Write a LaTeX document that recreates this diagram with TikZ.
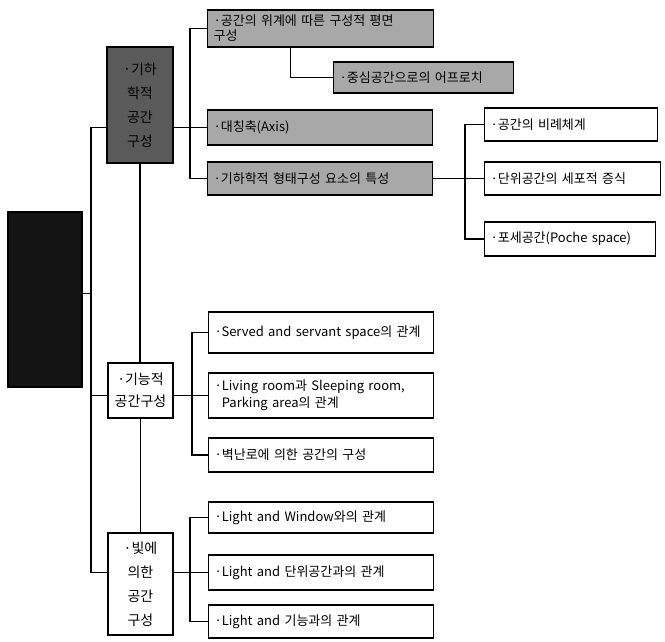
\documentclass[tikz,border=0pt]{standalone}
\usepackage{fontspec}
\setmainfont{Noto Sans CJK KR}
\definecolor{sdark}{HTML}{141414}
\definecolor{sgray}{HTML}{5A5A5A}
\definecolor{slight}{HTML}{A8A8A8}

\begin{document}
\begin{tikzpicture}[x=1pt, y=-1pt, line cap=round,
  box/.style={draw=black, line width=1.1pt, anchor=west, align=left,
    inner xsep=6pt, inner ysep=0pt, font=\fontsize{13}{17}\selectfont},
  hbox/.style={box, fill=slight},
  cat/.style={draw=black, line width=1.1pt, align=center, inner sep=0pt,
    minimum width=65pt, font=\fontsize{14}{24}\selectfont},
  link/.style={line width=1.1pt}]
  \useasboundingbox (0,0) rectangle (665,641);

  % root and categories
  \node[cat, fill=sdark, minimum width=74pt, minimum height=175pt] (root) at (45,299.5) {};
  \node[cat, fill=sgray, minimum width=66pt, minimum height=116pt] (geo) at (140,105) {·기하\\학적\\공간\\구성};
  \node[cat, minimum height=55pt, font=\fontsize{14}{22}\selectfont] (func) at (140.5,390.5) {·기능적\\공간구성};
  \node[cat, minimum height=102pt] (light) at (140.5,584) {·빛에\\의한\\공간\\구성};

  % geometric branch
  \node[hbox, text width=214pt, minimum height=37pt, font=\fontsize{13}{15}\selectfont] (hier) at (207,28.5) {·공간의 위계에 따른 구성적 평면\\구성};
  \node[hbox, text width=168pt, minimum height=31pt] (appr) at (333,77.5) {·중심공간으로의 어프로치};
  \node[hbox, text width=213pt, minimum height=35pt] (axis) at (207,127.5) {·대칭축(Axis)};
  \node[hbox, text width=213pt, minimum height=33pt] (form) at (207,178.5) {·기하학적 형태구성 요소의 특성};
  \node[box, text width=161pt, minimum height=33pt] (prop) at (484,124.5) {·공간의 비례체계};
  \node[box, text width=164pt, minimum height=33pt] (cell) at (484,178.5) {·단위공간의 세포적 증식};
  \node[box, text width=159pt, minimum height=34pt] (poche) at (484,239) {·포세공간(Poche space)};

  % functional branch
  \node[box, text width=213pt, minimum height=41pt] (serv) at (208,332.5) {·Served and servant space의 관계};
  \node[box, text width=213pt, minimum height=45pt] (room) at (208,395.5) {·Living room과 Sleeping room,\\\phantom{·}Parking area의 관계};
  \node[box, text width=213pt, minimum height=34pt] (fire) at (208,455) {·벽난로에 의한 공간의 구성};

  % light branch
  \node[box, text width=213pt, minimum height=31pt] (wind) at (208,517.5) {·Light and Window와의 관계};
  \node[box, text width=213pt, minimum height=35pt] (unit) at (208,572.5) {·Light and 단위공간과의 관계};
  \node[box, text width=213pt, minimum height=33pt] (use) at (208,621.5) {·Light and 기능과의 관계};

  \coordinate (spine) at (91,0);
  \coordinate (brgeo) at (190,0);
  \coordinate (brform) at (465,0);
  \coordinate (brfunc) at (192,0);
  \coordinate (brlight) at (190,0);

  % trunk
  \draw[link] (geo.west |- axis.west) -| (spine |- unit.west) -- (light.west |- unit.west);
  \draw[link] ([yshift=6pt]root.east) -- ([yshift=6pt]root.east -| spine);
  \draw[link] (func.west |- room.west) -- (spine |- room.west);
  \draw[link] (geo.south) -- (geo.south |- func.north);
  \draw[link] (func.south) -- (func.south |- light.north);

  % brackets
  \draw[link] (geo.east |- axis.west) -- (axis.west);
  \draw[link] (hier.west) -| (brgeo |- form.west) -- (form.west);
  \draw[link] ([xshift=-30pt]hier.south) |- (appr.west);
  \draw[link] (form.east) -- (cell.west);
  \draw[link] (prop.west) -| (brform |- poche.west) -- (poche.west);
  \draw[link] (func.east |- room.west) -- (room.west);
  \draw[link] (serv.west) -| (brfunc |- fire.west) -- (fire.west);
  \draw[link] (light.east |- unit.west) -- (unit.west);
  \draw[link] (wind.west) -| (brlight |- use.west) -- (use.west);
\end{tikzpicture}
\end{document}
